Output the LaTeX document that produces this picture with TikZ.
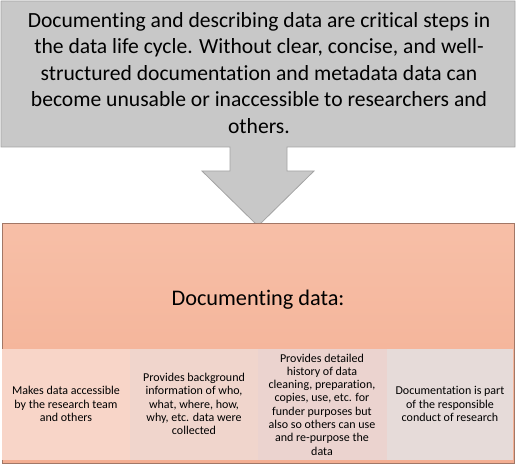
\documentclass[tikz,border=0pt]{standalone}
\usepackage{fontspec}
\setmainfont{Carlito}[Ligatures=NoCommon]
\begin{document}
\begin{tikzpicture}[x=1pt,y=-1pt,
  callout/.style={fill=calloutgray,draw=calloutedge,line width=0.8pt},
  mainbox/.style={draw=boxedge,line width=0.8pt,top color=salmontop,bottom color=salmonbot,shading angle=0},
  item/.style={draw=none,inner sep=0pt,align=center,font=\fontsize{12}{13.3}\selectfont,text=black}
]
\definecolor{calloutgray}{HTML}{C8C8C8}
\definecolor{calloutedge}{HTML}{A4A4A4}
\definecolor{boxedge}{HTML}{A27766}
\definecolor{salmontop}{HTML}{F7BFA7}
\definecolor{salmonbot}{HTML}{F3AE92}
\definecolor{itemA}{HTML}{F8D5C8}
\definecolor{itemB}{HTML}{F0D5CC}
\definecolor{itemC}{HTML}{EBD3CF}
\definecolor{itemD}{HTML}{E6DBD9}
\useasboundingbox (0,0) rectangle (517,468);
\fill[white] (0,0) rectangle (517,468);

% down-arrow callout: box with an arrow pointing to the box below
\coordinate (sl) at (230,147);
\coordinate (sr) at (287,147);
\coordinate (tip) at (258,226);
\draw[callout] (1,1) -- (515,1) -- (515,147) -- (sr) -- (287,171) -- (314,171)
  -- (tip) -- (202,171) -- (230,171) -- (sl) -- (1,147) -- cycle;
\node[align=center,font=\fontsize{21.6}{26.5}\selectfont] (intro) at (259,73)
  {Documenting and describing data are critical steps in\\
   the data life cycle. Without clear, concise, and well-\\
   structured documentation and metadata data can\\
   become unusable or inaccessible to researchers and\\
   others.};

% main box
\draw[mainbox] (2,223) rectangle (514,463);
\node[font=\fontsize{22.3}{26}\selectfont] (title) at (258,300) {Documenting data:};

% four items
\fill[itemA] (2,349) rectangle (130,460);
\fill[itemB] (130,349) rectangle (258,460);
\fill[itemC] (258,349) rectangle (387,460);
\fill[itemD] (387,349) rectangle (513,460);
\node[item] (i1) at (66,404) {Makes data accessible\\by the research team\\and others};
\node[item] (i2) at (194,404) {Provides background\\information of who,\\what, where, how,\\why, etc. data were\\collected};
\node[item] (i3) at (322,404.5) {Provides detailed\\history of data\\cleaning, preparation,\\copies, use, etc. for\\funder purposes but\\also so others can use\\and re-purpose the\\data};
\node[item] (i4) at (450,404) {Documentation is part\\of the responsible\\conduct of research};
\end{tikzpicture}
\end{document}
